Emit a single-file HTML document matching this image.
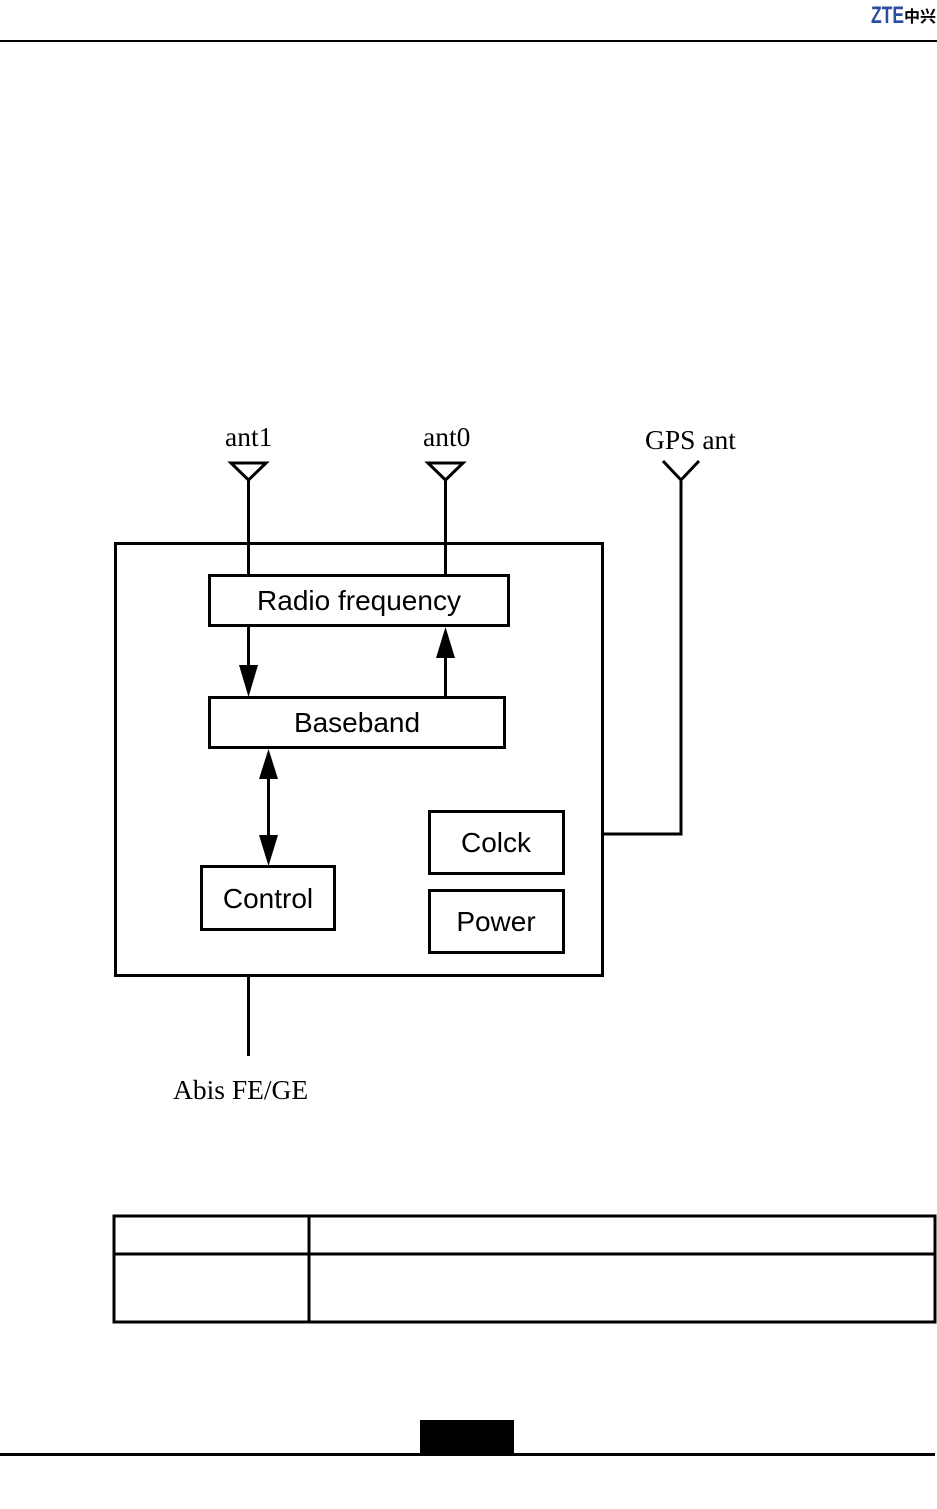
<!DOCTYPE html>
<html><head><meta charset="utf-8"><style>
html,body{margin:0;padding:0;background:#fff;}
body{width:937px;height:1504px;overflow:hidden;}
</style></head><body>
<svg width="937" height="1504" viewBox="0 0 937 1504" xmlns="http://www.w3.org/2000/svg">
<!-- header -->
<text x="871" y="23" font-family="Liberation Sans, sans-serif" font-weight="bold" font-size="24" fill="#2b4ea0" textLength="33" lengthAdjust="spacingAndGlyphs">ZTE</text>
<text x="904" y="22" font-family="Liberation Sans, 'Noto Sans CJK SC', sans-serif" font-weight="bold" font-size="16" fill="#000">中兴</text>
<rect x="0" y="40" width="937" height="2" fill="#000"/>
<g fill="none" stroke="#000" stroke-width="3">
<rect x="115.5" y="543.5" width="487" height="432"/>
<rect x="209.5" y="575.5" width="299" height="50"/>
<rect x="209.5" y="697.5" width="295" height="50"/>
<rect x="201.5" y="866.5" width="133" height="63"/>
<rect x="429.5" y="811.5" width="134" height="62"/>
<rect x="429.5" y="890.5" width="134" height="62"/>
<line x1="248.5" y1="480" x2="248.5" y2="575"/>
<polygon points="231,463 266,463 248.5,480"/>
<line x1="445.5" y1="480" x2="445.5" y2="575"/>
<polygon points="428,463 463,463 445.5,480"/>
<polyline points="663,461 681,480 699,461"/>
<polyline points="681,479 681,834 603,834"/>
<line x1="248.5" y1="627" x2="248.5" y2="667"/>
<line x1="445.5" y1="656" x2="445.5" y2="697"/>
<line x1="268.5" y1="776" x2="268.5" y2="838"/>
<line x1="248.5" y1="977" x2="248.5" y2="1056"/>
</g>
<g fill="#000">
<polygon points="239,665 258,665 248.5,697"/>
<polygon points="436,658 455,658 445.5,627"/>
<polygon points="259,779 278,779 268.5,749"/>
<polygon points="259,835 278,835 268.5,866"/>
</g>
<g font-family="Liberation Serif, serif" font-size="27.5" fill="#000">
<text x="225" y="446">ant1</text>
<text x="423" y="446">ant0</text>
<text x="645" y="449">GPS ant</text>
<text x="173" y="1099">Abis FE/GE</text>
</g>
<g font-family="Liberation Sans, sans-serif" font-size="28" fill="#000" text-anchor="middle">
<text x="359" y="610">Radio frequency</text>
<text x="357" y="732">Baseband</text>
<text x="268" y="908">Control</text>
<text x="496" y="852">Colck</text>
<text x="496" y="931">Power</text>
</g>
<g fill="none" stroke="#000" stroke-width="3">
<rect x="114" y="1216" width="821" height="106"/>
<line x1="114" y1="1254" x2="935" y2="1254"/>
<line x1="309" y1="1216" x2="309" y2="1322"/>
</g>
<rect x="420" y="1420" width="94" height="35" fill="#000"/>
<rect x="0" y="1453" width="935" height="3" fill="#000"/>
</svg>
</body></html>
